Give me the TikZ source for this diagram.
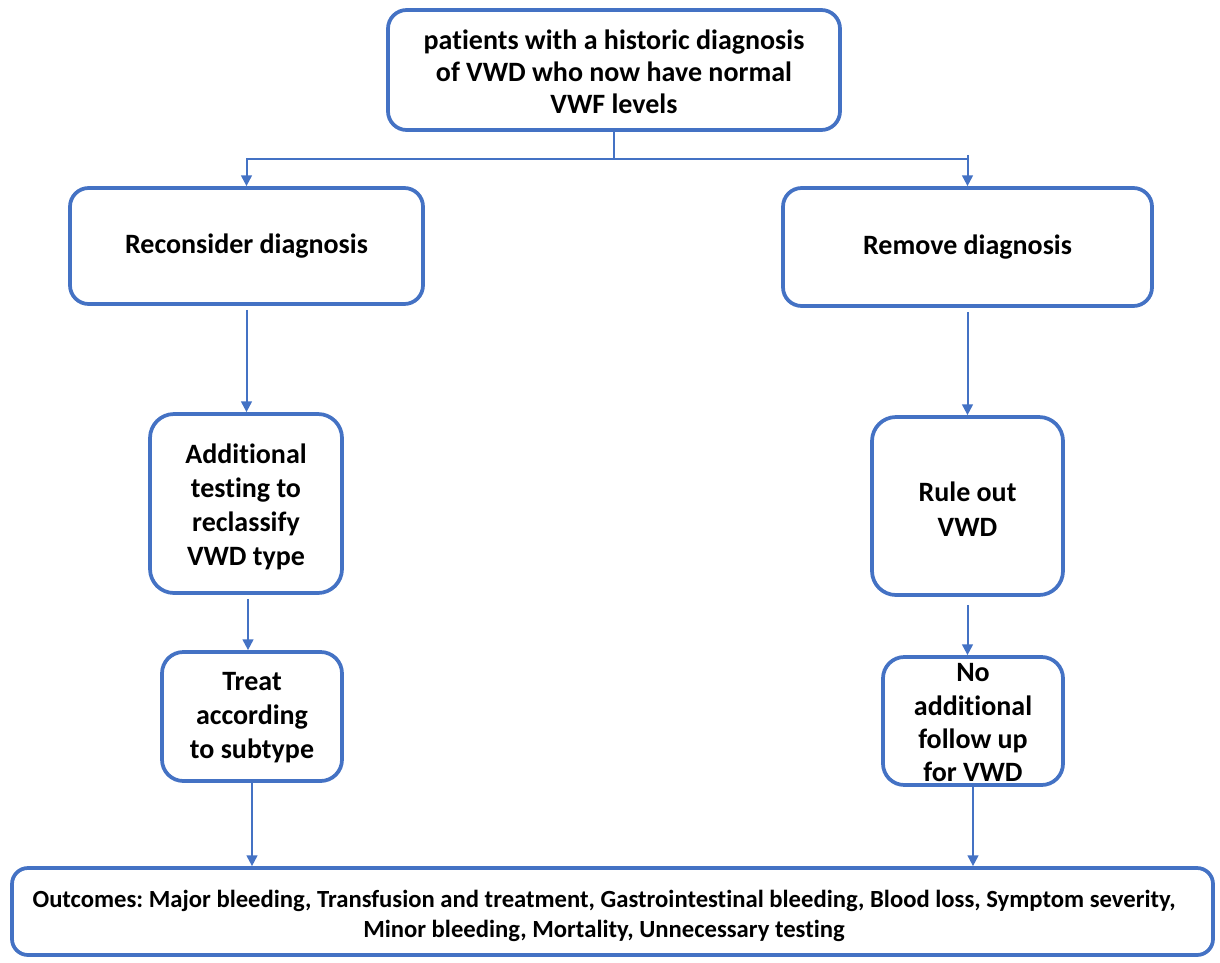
\documentclass[tikz,border=0pt]{standalone}
\usepackage{fontspec}
\setmainfont{Carlito}[Ligatures=NoCommon]
\usetikzlibrary{arrows.meta,calc}
\definecolor{flowblue}{HTML}{4472C4}
\frenchspacing
\begin{document}
\begin{tikzpicture}[x=0.75pt,y=-0.75pt,
  box/.style={draw=flowblue,line width=2.8pt,fill=white,rounded corners=14pt,
    align=center,inner sep=0pt,font=\bfseries\fontsize{21}{24}\selectfont},
  wh/.style 2 args={minimum width={#1*0.75pt},minimum height={#2*0.75pt}},
  txt/.style={align=center,inner sep=0pt,font=\bfseries\fontsize{21}{#1}\selectfont},
  link/.style={draw=flowblue,line width=1.5pt},
  arr/.style={link,-{Triangle[length=8pt,width=8pt]}}]
\useasboundingbox (0,0) rectangle (1220,963);
% boxes
\node[box,wh={452}{120}] (top) at (614,70) {};
\node[txt=24] (toptxt) at (614,72)
  {patients with a historic diagnosis\\of VWD who now have normal\\VWF levels};
\node[box,wh={353}{116}] (recon) at (246.5,246) {Reconsider diagnosis};
\node[box,wh={369}{118}] (remove) at (967.5,247) {Remove diagnosis};
\node[box,wh={192}{179},rounded corners=18pt] (addl) at (246,503.5) {};
\node[txt=25.5] (addltxt) at (246,507)
  {Additional\\testing to\\reclassify\\VWD type};
\node[box,wh={191}{178},rounded corners=18pt] (rule) at (967.5,506) {};
\node[txt=26] (ruletxt) at (967.5,509) {Rule out\\VWD};
\node[box,wh={180}{129},rounded corners=16pt] (treat) at (252,716.5) {};
\node[txt=25.5] (treattxt) at (252,718)
  {Treat\\according\\to subtype};
\node[box,wh={180}{128},rounded corners=16pt] (noadd) at (973,721) {};
\node[txt=25] (noaddtxt) at (973,723)
  {No\\additional\\follow up\\for VWD};
\node[box,wh={1201}{87},rounded corners=12pt] (out) at (612.5,911.5) {};
\node[align=center,inner sep=0pt,font=\bfseries\fontsize{18.5}{22.5}\selectfont] (outtxt) at (604,916)
  {Outcomes: Major bleeding, Transfusion and treatment, Gastrointestinal bleeding, Blood loss, Symptom severity,\\Minor bleeding, Mortality, Unnecessary testing};
% connectors
\coordinate (split) at (614,159);
\draw[link] (top.south) -- (split);
\draw[arr] (split) -| (recon.north);
\draw[link] (split) -- (split -| remove.north);
\draw[arr] ($(split -| remove.north)+(0,-4)$) -- (remove.north);
\coordinate (recbot) at ($(recon.south)+(0,4)$);
\draw[arr] (recbot) -- (recbot |- addl.north);
\draw[arr] ($(remove.south)+(0,4)$) -- (remove.south |- rule.north);
\coordinate (addbot) at ($(addl.south)+(2,4)$);
\draw[arr] (addbot) -- (addbot |- treat.north);
\draw[arr] ($(rule.south)+(0,8)$) -- (rule.south |- noadd.north);
\draw[arr] (treat.south) -- (treat.south |- out.north);
\draw[arr] (noadd.south) -- (noadd.south |- out.north);
\end{tikzpicture}
\end{document}
